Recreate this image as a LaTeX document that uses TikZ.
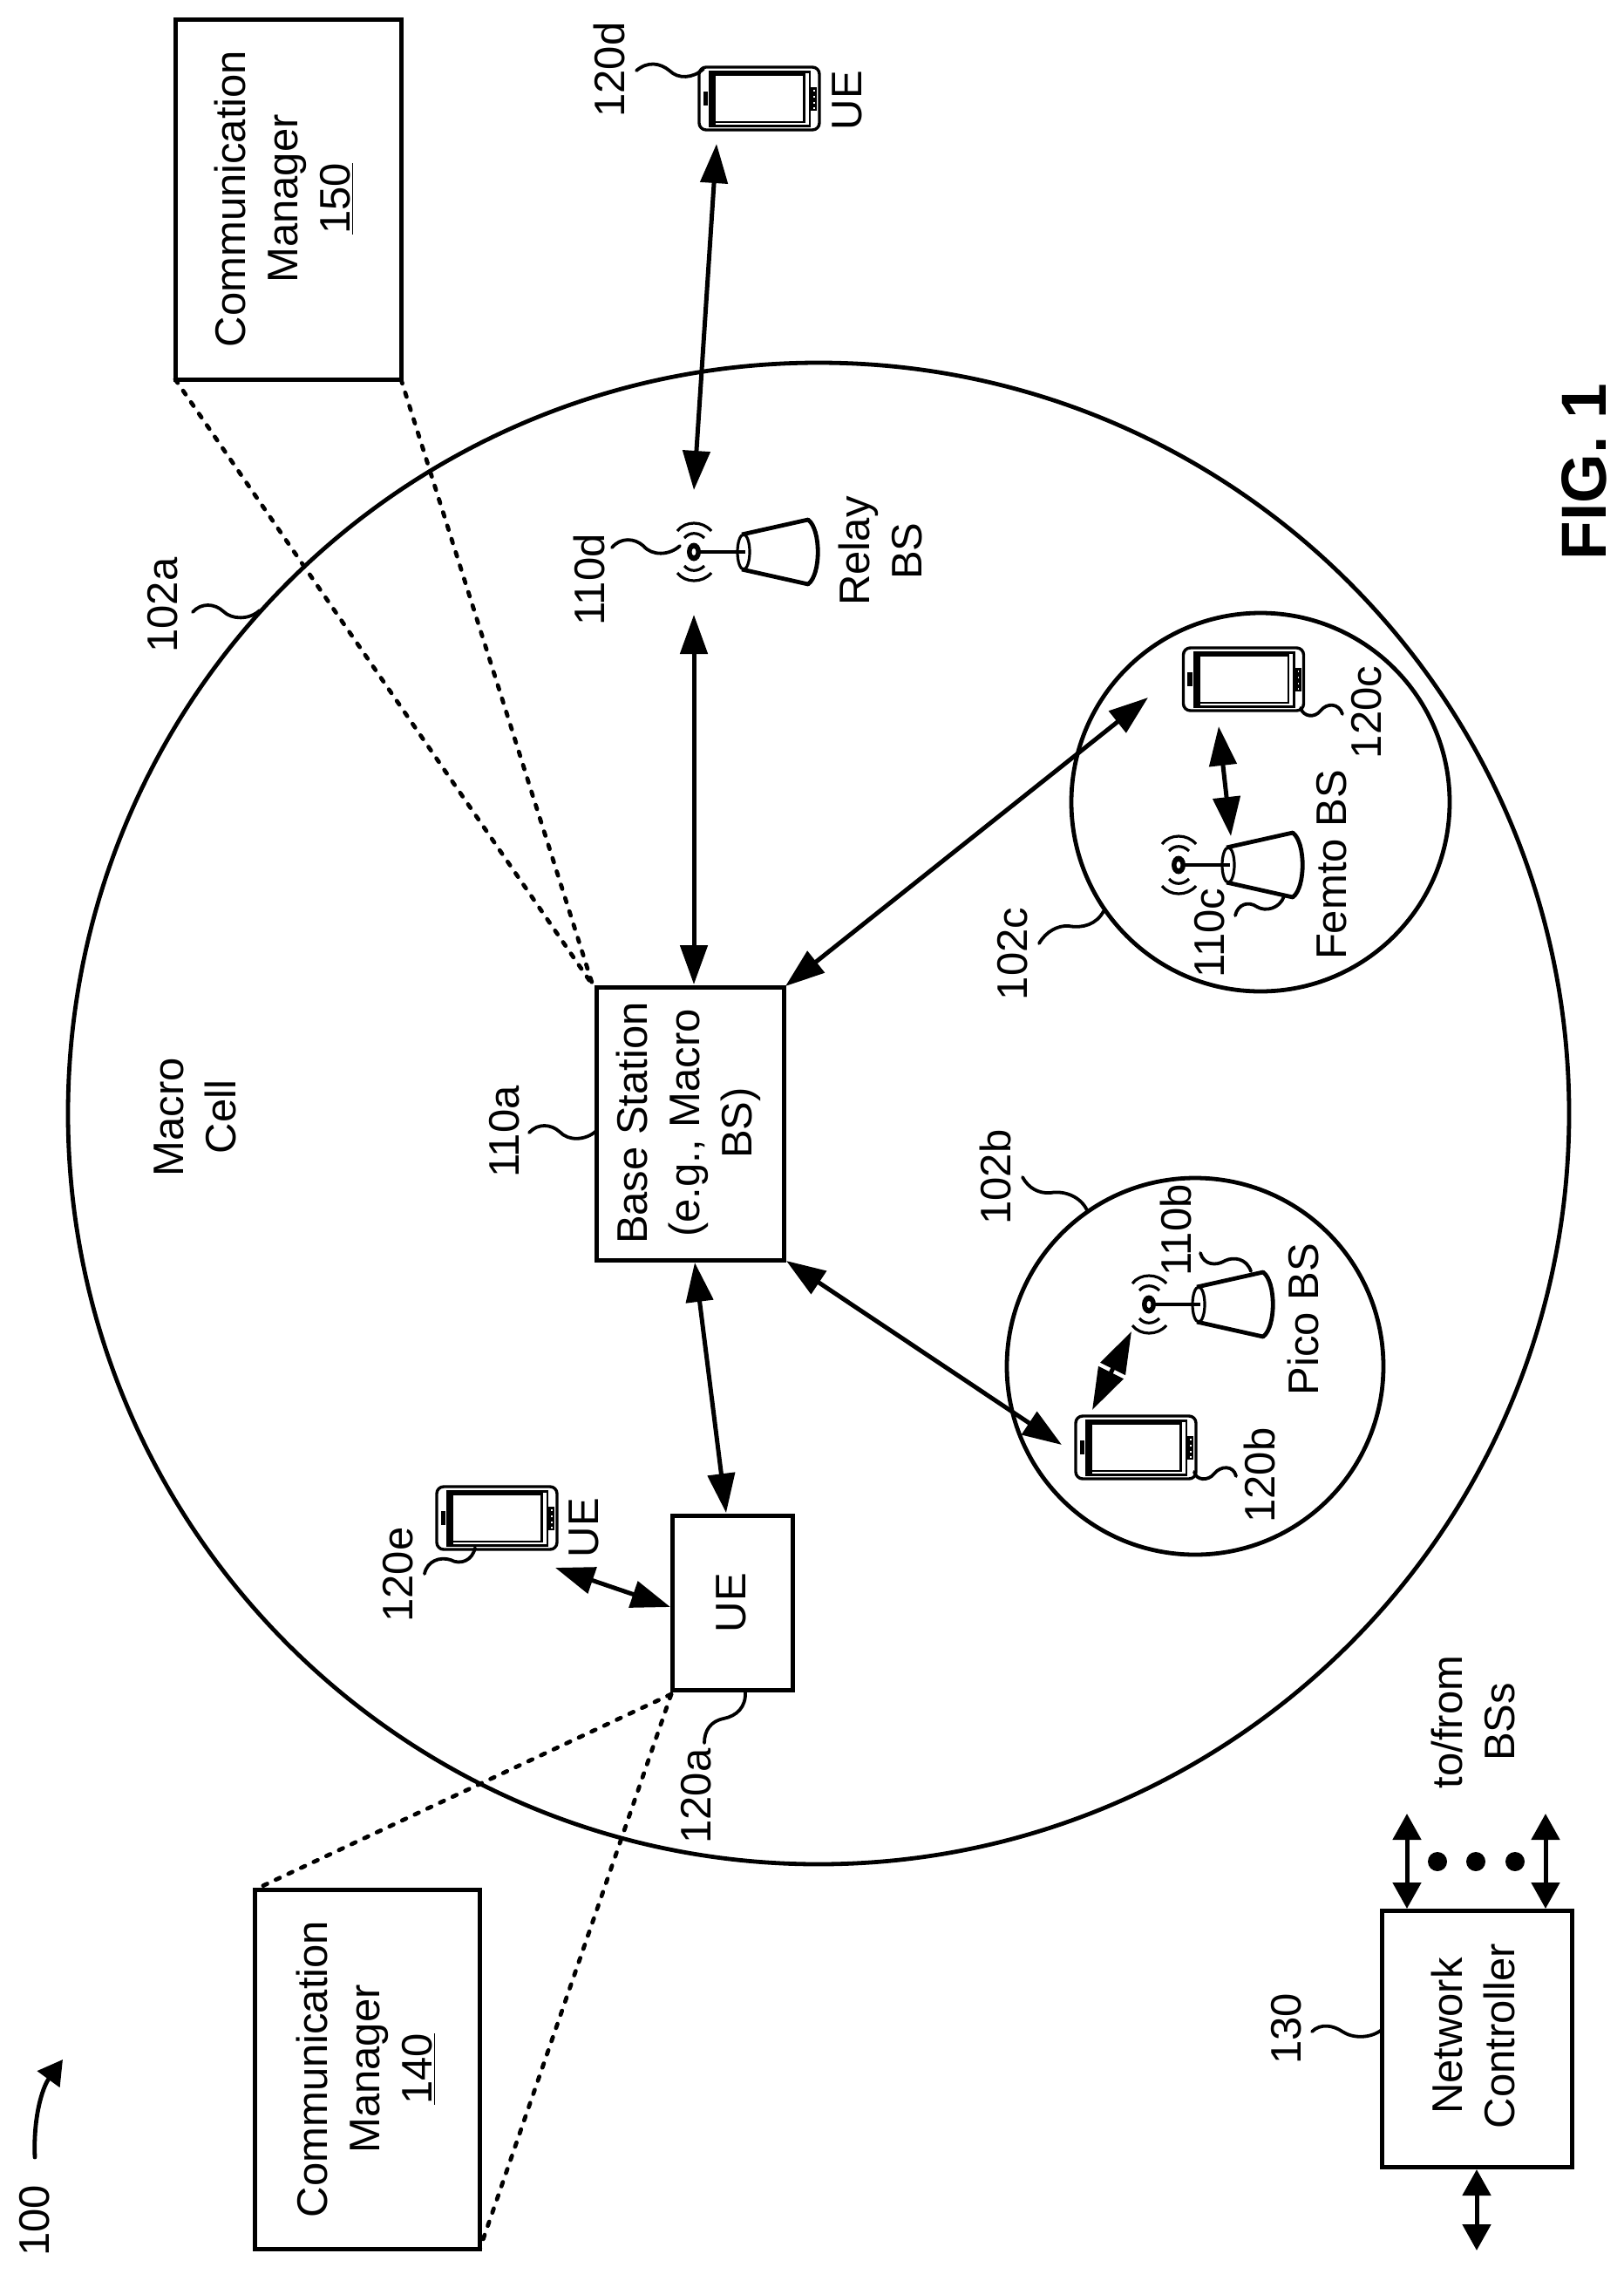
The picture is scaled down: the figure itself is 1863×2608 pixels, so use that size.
\documentclass[tikz,border=0pt]{standalone}
\usepackage{fontspec}
\setmainfont{Liberation Sans}
\usetikzlibrary{arrows.meta}
\tikzset{
  box/.style={draw,line width=2.5pt,outer sep=0pt,inner sep=0pt,anchor=north west,line join=miter},
  lab/.style={rotate=90,font=\fontsize{24.5}{30}\selectfont,align=center,inner sep=0pt},
  sl/.style={lab,anchor=base},
  cell/.style={line width=2.4pt},
  link/.style={line width=2.5pt,{Triangle[length=22.5pt,width=15.5pt]}-{Triangle[length=22.5pt,width=15.5pt]}},
  tight/.style={line width=2.5pt,{Triangle[length=24pt,width=15.5pt]}-{Triangle[length=24pt,width=15.5pt]}},
  smalll/.style={line width=2.5pt,{Triangle[length=15pt,width=16pt]}-{Triangle[length=15pt,width=16pt]}},
  lead/.style={line width=1.9pt,line cap=round},
  dot/.style={line width=2.4pt,line cap=round,dash pattern=on 2.5pt off 5.5pt},
}
\newcommand{\phoneicon}[1]{%
\begin{scope}[shift={(#1)}]
 \draw[line width=1.7pt,rounded corners=4pt] (-69,-36) rectangle (69,36);
 \fill (-58,-32) rectangle (59,33);
 \fill[white] (-50,-26) rectangle (50,26);
 \fill[white] (52.7,-29) rectangle (56.5,30);
 \fill[white] (-50,28) rectangle (53,29.5);
 \fill (-64.3,-8) rectangle (-59,7.7);
 \fill (59,-13) rectangle (66,14);
 \foreach \yy in {-10,-3,4,10} \fill[white] (62,\yy) rectangle (63.6,\yy+1.6);
\end{scope}}
\newcommand{\anticon}[1]{%
\begin{scope}[shift={(#1)}]
 \fill (0,0) ellipse (8 and 10.5);
 \fill[white] (0,0) ellipse (2.4 and 4);
 \draw[line width=1.9pt] (5,0) -- (59,0);
 \draw[line width=2.4pt,line join=round] (55,-20) -- (131,-37) .. controls (146,-26) and (146,26) .. (131,37) -- (55,20);
 \draw[line width=1.6pt] (57,0) ellipse (7 and 20);
 \draw[line width=1.6pt] (-19,-24) .. controls (-10,-36) and (10,-36) .. (20,-24);
 \draw[line width=1.6pt] (-11,-16) .. controls (-5,-23) and (5,-23) .. (12,-16);
 \draw[line width=1.6pt] (-19,24) .. controls (-10,36) and (10,36) .. (20,24);
 \draw[line width=1.6pt] (-11,16) .. controls (-5,23) and (5,23) .. (12,16);
\end{scope}}
\begin{document}
\begin{tikzpicture}[x=0.5pt,y=-0.5pt]
\useasboundingbox (0,0) rectangle (1863,2608);
% cells
\draw[cell] (939,1277) circle [radius=861];
\draw[cell] (1446,920) circle [radius=217];
\draw[cell] (1371,1567) circle [radius=216];
% boxes
\node[box,minimum width=129.5pt,minimum height=206.5pt] (cm150) at (201,22) {};
\node[box,minimum width=129pt,minimum height=206pt] (cm140) at (292.5,2167) {};
\node[box,minimum width=107.5pt,minimum height=156.5pt] (bs) at (684,1132) {};
\node[box,minimum width=69pt,minimum height=100pt] (ue) at (771,1738) {};
\node[box,minimum width=109pt,minimum height=147pt] (nc) at (1585,2191) {};
\node[lab] (t150) at (326,228) {Communication\\Manager\\\underline{150}};
\node[lab] (t140) at (420,2373) {Communication\\Manager\\\underline{140}};
\node[lab] (tbs) at (790,1288) {Base Station\\(e.g., Macro\\BS)};
\node[sl] (tue) at (855,1838) {UE};
\node[lab] (tnc) at (1690,2335) {Network\\Controller};
% icons
\phoneicon{871,113}
\phoneicon{1426.5,779}
\phoneicon{1303,1660}
\phoneicon{570,1741}
\anticon{796,633}
\anticon{1352,992}
\anticon{1318,1496}
% named anchors
\coordinate (a120dT) at (822,165); \coordinate (a120dB) at (796,562);
\coordinate (aRelT) at (796,705); \coordinate (aRelB) at (796,1129);
\coordinate (a120cT) at (1317,800); \coordinate (a120cB) at (901,1131);
\coordinate (afT) at (1398,833); \coordinate (afB) at (1412,959);
\coordinate (a120bT) at (1218,1657); \coordinate (a120bB) at (902,1446);
\coordinate (apT) at (1298,1527); \coordinate (apB) at (1253,1617);
\coordinate (aueT) at (797,1448); \coordinate (aueB) at (833,1735);
\coordinate (aeT) at (637,1798); \coordinate (aeB) at (769,1843);
\coordinate (n1T) at (1614,2080); \coordinate (n1B) at (1614,2189);
\coordinate (n2T) at (1773,2080); \coordinate (n2B) at (1773,2189);
\coordinate (n3T) at (1694,2488); \coordinate (n3B) at (1694,2581);
\draw[link] (a120dT) -- (a120dB);
\draw[link] (aRelT) -- (aRelB);
\draw[link] (a120cT) -- (a120cB);
\draw[link] (afT) -- (afB);
\draw[link] (a120bT) -- (a120bB);
\draw[tight] (apT) -- (apB);
\draw[link] (aueT) -- (aueB);
\draw[link] (aeT) -- (aeB);
\draw[smalll] (n1T) -- (n1B);
\draw[smalll] (n2T) -- (n2B);
\draw[smalll] (n3T) -- (n3B);
\foreach \xx in {1649,1693,1738} \fill (\xx,2135) ellipse (11 and 11);
% dashed
\coordinate (bsNW) at (680,1130);
\coordinate (ueSW) at (770,1943);
\draw[dot] (cm150.south west) -- (bsNW);
\draw[dot] (cm150.south east) -- (bsNW);
\draw[dot] (ueSW) -- (cm140.north west);
\draw[dot] (ueSW) -- (cm140.south east);
% labels
\node[sl] (l120d) at (716,80) {120d};
\node[sl] (lued) at (988,115) {UE};
\node[lab] (lrel) at (1010,632) {Relay\\BS};
\node[sl] (l110d) at (693,665) {110d};
\node[lab] (lmac) at (224,1281) {Macro\\Cell};
\node[sl] (l110a) at (595,1298) {110a};
\node[sl] (l102a) at (203,694) {102a};
\node[sl] (lfem) at (1544,992) {Femto BS};
\node[sl] (l120c) at (1584,817) {120c};
\node[sl] (l110c) at (1404,1070) {110c};
\node[sl] (l102c) at (1178,1094) {102c};
\node[sl] (l102b) at (1159,1350) {102b};
\node[sl] (l110b) at (1366,1411) {110b};
\node[sl] (lpic) at (1512,1513) {Pico BS};
\node[sl] (l120b) at (1462,1692) {120b};
\node[sl] (l120e) at (473,1806) {120e};
\node[sl] (luee) at (686,1752) {UE};
\node[sl] (l120a) at (815,2060) {120a};
\node[lab] (ltf) at (1690,1975) {to/from\\BSs};
\node[sl] (l130) at (1492,2327) {130};
\node[sl] (l100) at (56,2547) {100};
\node[sl,font=\bfseries\fontsize{36.5}{44}\selectfont] (lfig) at (1842,541) {FIG. 1};
% leaders
\draw[lead] (730,81) .. controls (743,70) and (757,72) .. (768,81) .. controls (778,91) and (795,90) .. (807,79);
\draw[lead] (702,628) .. controls (712,616) and (728,617) .. (738,626) .. controls (748,638) and (768,637) .. (780,626);
\draw[lead] (607,1299) .. controls (617,1288) and (632,1289) .. (642,1298) .. controls (652,1309) and (672,1308) .. (684,1297);
\draw[lead] (221,702) .. controls (231,691) and (246,692) .. (256,701) .. controls (266,711) and (286,711) .. (298,700);
\draw[lead] (1192,1082) .. controls (1200,1068) and (1214,1061) .. (1226,1062) .. controls (1242,1065) and (1258,1060) .. (1266,1045);
\draw[lead] (1173,1350) .. controls (1180,1363) and (1192,1369) .. (1205,1368) .. controls (1222,1365) and (1240,1373) .. (1247,1388);
\draw[lead] (1492,812) .. controls (1495,822) and (1508,824) .. (1515,815) .. controls (1522,806) and (1536,806) .. (1540,819);
\draw[lead] (1473,1028) .. controls (1468,1042) and (1452,1046) .. (1442,1040) .. controls (1432,1033) and (1420,1037) .. (1417,1050);
\draw[lead] (1435,1458) .. controls (1430,1443) and (1415,1441) .. (1405,1446) .. controls (1395,1452) and (1381,1451) .. (1377,1437);
\draw[lead] (1370,1688) .. controls (1372,1698) and (1386,1699) .. (1393,1690) .. controls (1400,1681) and (1415,1680) .. (1418,1693);
\draw[lead] (545,1775) .. controls (542,1790) and (528,1795) .. (517,1789) .. controls (505,1785) and (490,1790) .. (487,1805);
\draw[lead] (855,1940) .. controls (856,1958) and (845,1968) .. (830,1971) .. controls (815,1974) and (808,1985) .. (808,1999);
\draw[lead] (1505,2330) .. controls (1515,2320) and (1530,2323) .. (1540,2330) .. controls (1552,2338) and (1572,2338) .. (1585,2328);
\draw[line width=2.4pt,line cap=round,-{Triangle[length=14pt,width=15.5pt]}] (40,2474) .. controls (38,2430) and (48,2395) .. (72,2362);
\end{tikzpicture}
\end{document}
